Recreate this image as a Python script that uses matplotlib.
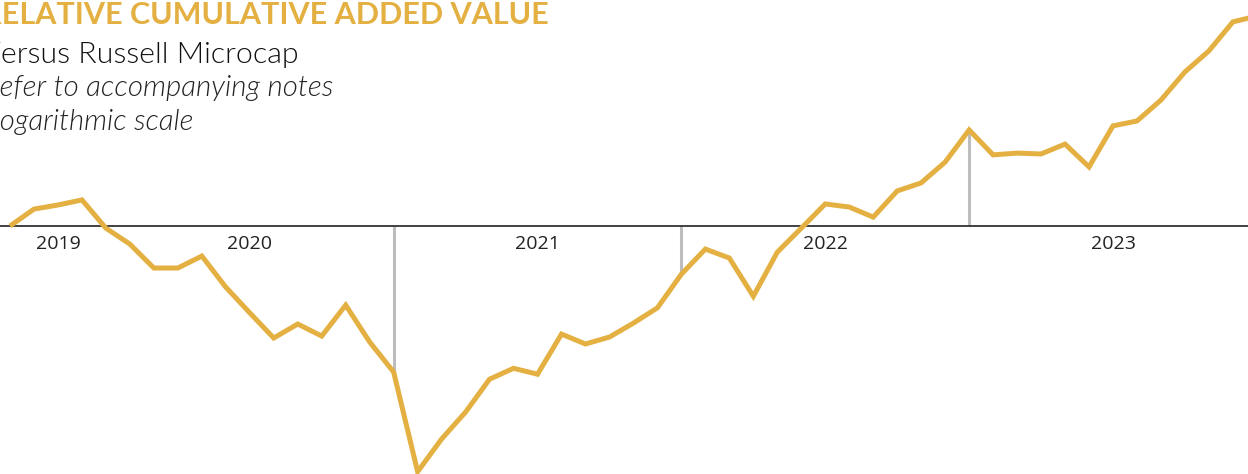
import numpy as np
import matplotlib.pyplot as plt

# relative cumulative added value (ratio, log scale), monthly
months = list(range(53))
rel_value = [1.000, 1.048, 1.060, 1.075, 0.994, 0.951, 0.890, 0.890, 0.920, 0.844,
             0.786, 0.733, 0.762, 0.737, 0.803, 0.725, 0.667, 0.506, 0.554, 0.597,
             0.654, 0.674, 0.663, 0.741, 0.721, 0.735, 0.764, 0.797, 0.875, 0.938,
             0.915, 0.823, 0.930, 0.994, 1.063, 1.054, 1.025, 1.102, 1.127, 1.194,
             1.305, 1.218, 1.224, 1.221, 1.255, 1.178, 1.320, 1.338, 1.418, 1.533,
             1.625, 1.761, 1.790]

year_labels = ['2019', '2020', '2021', '2022', '2023']
year_label_pos = [2, 10, 22, 34, 46]
year_breaks = [4, 16, 28, 40]

gold = '#E3B041'
W, H = 1248, 474
fnt = 'Lato'

fig = plt.figure(figsize=(W / 100, H / 100), dpi=100)
ax = fig.add_axes([0, 0, 1, 1])
ax.set_yscale('log')

# drop lines at year breaks
for b in year_breaks:
    ax.plot([b, b], [1.0, rel_value[b]], color='#bdbdbd', lw=2.2, zorder=1,
            solid_capstyle='butt')

ax.axhline(1.0, color='#333333', lw=1.3, zorder=2)
ax.plot(months, rel_value, color=gold, lw=3.6, zorder=3,
        solid_joinstyle='miter', solid_capstyle='butt')

for lab, pos in zip(year_labels, year_label_pos):
    ax.annotate(lab, (pos, 1.0), xytext=(0, -6.5), textcoords='offset points',
                ha='center', va='top', fontsize=14, color='#222222',
                family='Open Sans')

ax.set_xlim(-0.417, 51.63)
ax.set_ylim(2 ** -0.992, 2 ** 0.904)
ax.axis('off')

renderer = fig.canvas.get_renderer()

def fit_text(x_right, y_base, full, visible, width_px, **kw):
    # size the text so the part that shows on the canvas has the wanted width
    t = fig.text(0, 0, visible, fontsize=10, **kw)
    w = t.get_window_extent(renderer).width
    t.remove()
    fig.text(x_right / W, 1 - y_base / H, full, ha='right', va='baseline',
             fontsize=10 * width_px / w, **kw)

fit_text(549, 24, 'RELATIVE CUMULATIVE ADDED VALUE', 'ELATIVE CUMULATIVE ADDED VALUE',
         547, fontweight='bold', color=gold, family=fnt)
fit_text(299, 63, 'Versus Russell Microcap', 'ersus Russell Microcap', 297,
         fontweight=300, color='#111111', family=fnt)
fit_text(333, 96, 'Refer to accompanying notes', 'efer to accompanying notes', 333,
         fontweight=300, style='italic', color='#222222', family=fnt)
fit_text(193, 130, 'Logarithmic scale', 'ogarithmic scale', 193,
         fontweight=300, style='italic', color='#222222', family=fnt)

fig.savefig('out.png', dpi=100)
